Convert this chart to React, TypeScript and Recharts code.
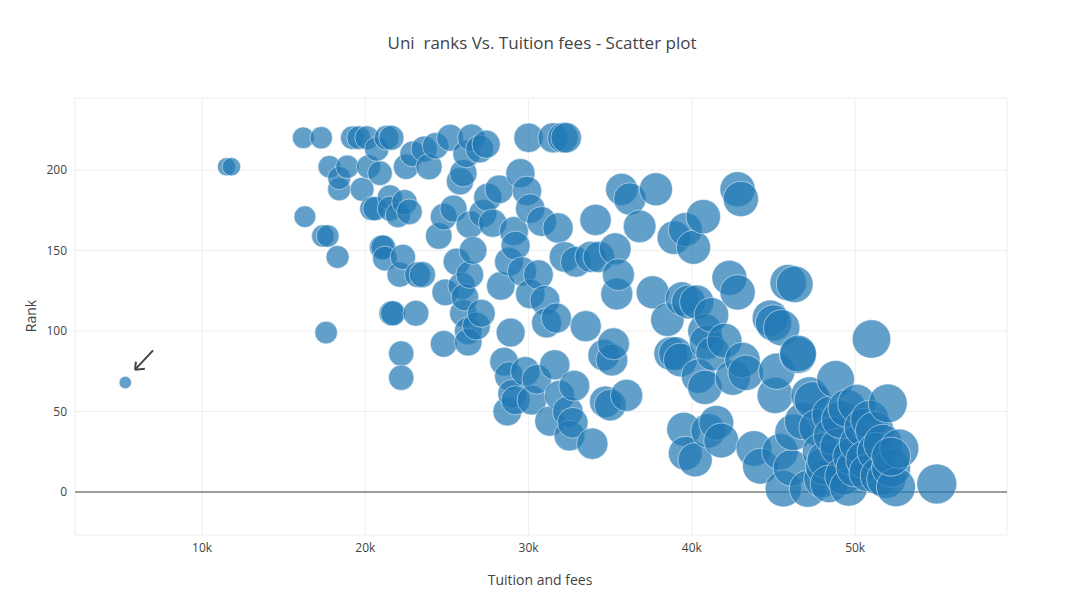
import React from 'react';
import { ScatterChart, Scatter, XAxis, YAxis, ZAxis, CartesianGrid, ReferenceLine } from 'recharts';

const tuitionK = [5.3,11.5,11.8,16.2,17.3,16.3,17.4,17.7,17.6,17.8,18.3,18.4,18.4,18.9,19.2,19.6,19.8,20.1,20.2,20.4,20.6,20.7,20.9,21.0,21.1,21.2,21.3,21.5,21.5,21.6,21.6,21.7,22.0,22.1,22.2,22.2,22.3,22.4,22.5,22.7,22.9,23.1,23.2,23.5,23.6,23.9,24.3,24.5,24.8,24.8,24.9,25.2,25.4,25.6,25.8,25.9,26.0,26.0,26.1,26.2,26.3,26.3,26.4,26.4,26.5,26.6,26.8,27.0,27.1,27.2,27.4,27.5,27.8,28.2,28.3,28.5,28.7,28.8,28.9,28.8,29.0,29.1,29.2,29.2,29.5,29.6,29.8,29.9,30.0,30.1,30.1,30.2,30.5,30.6,30.8,31.0,31.1,31.3,31.5,31.6,31.7,31.8,31.9,32.1,32.2,32.3,32.4,32.5,32.7,32.8,32.9,33.5,33.8,33.9,34.1,34.3,34.6,34.7,35.0,35.1,35.2,35.3,35.4,35.5,35.7,36.0,36.2,36.8,37.6,37.8,38.5,38.7,38.9,39.0,39.3,39.4,39.5,39.6,39.6,39.8,40.1,40.2,40.3,40.4,40.7,40.8,40.8,40.9,41.0,41.2,41.3,41.5,41.8,42.0,42.3,42.5,42.8,42.8,43.0,43.1,43.3,43.8,44.2,44.8,45.0,45.1,45.2,45.4,45.5,45.6,45.9,46.1,46.2,46.5,46.3,46.5,46.8,47.1,47.2,47.4,47.7,47.9,48.0,48.1,48.2,48.4,48.5,48.6,48.8,49.0,49.1,49.3,49.5,49.6,49.8,50.0,50.1,50.2,50.5,50.6,50.8,50.9,51.0,51.2,51.3,51.5,51.7,51.9,52.0,52.2,52.5,52.7,52.2,55.0];
const ranks = [68,202,202,220,220,171,159,159,99,202,146,188,195,202,220,220,188,220,202,176,176,213,198,152,152,145,220,183,176,111,220,111,172,135,86,71,146,180,202,174,210,111,135,135,213,202,215,159,171,92,124,220,176,143,193,128,111,198,121,210,100,93,166,135,220,150,103,213,111,173,216,183,167,188,128,81,50,143,99,72,61,162,153,57,198,137,75,187,220,176,123,57,70,135,168,119,105,44,220,79,108,164,60,220,146,220,50,35,43,66,143,103,146,30,169,146,85,56,54,82,92,151,123,135,188,60,182,165,124,188,107,86,158,86,82,120,39,24,163,118,152,20,118,72,171,65,100,93,38,110,86,43,32,94,133,71,124,188,182,82,74,27,16,108,105,60,75,25,102,2,130,15,37,85,129,86,44,2,60,57,40,25,8,16,20,5,48,35,70,28,45,10,52,3,22,15,55,30,40,20,12,45,95,38,25,10,30,8,55,15,3,27,22,5];
const xTicks = [10000, 20000, 30000, 40000, 50000];
const yTicks = [0, 50, 100, 150, 200];

const data = tuitionK.map((t, i) => ({ x: t * 1000, y: ranks[i], z: t * 1000 }));

const fmt = (v: number) => `${v / 1000}k`;
const tickStyle = { fontSize: 12, fill: '#444', fontFamily: '"Open Sans", sans-serif' };

export default function App() {
  return (
    <div style={{ position: 'absolute', left: 0, top: 0, width: 1084, height: 607, background: '#fff', fontFamily: '"Open Sans", sans-serif' }}>
      <div style={{ position: 'absolute', top: 31, width: 1084, textAlign: 'center', fontSize: 17, color: '#444' }}>
        Uni&nbsp; ranks Vs. Tuition fees - Scatter plot
      </div>
      <div style={{ position: 'absolute', top: 570, width: 1084, left: 0, paddingLeft: 0, textAlign: 'center', fontSize: 14, color: '#444' }}>
        <span style={{ position: 'absolute', left: 540, transform: 'translateX(-50%)' }}>Tuition and fees</span>
      </div>
      <div style={{ position: 'absolute', left: 30, top: 316, transform: 'translate(-50%,-50%) rotate(-90deg)', fontSize: 14, color: '#444' }}>Rank</div>
      <ScatterChart width={1084} height={607} margin={{ top: 98, right: 77, bottom: 42, left: 15 }}>
        <CartesianGrid stroke="#eee" />
        <XAxis type="number" dataKey="x" domain={[2220, 59300]} ticks={xTicks} tickFormatter={fmt}
          axisLine={false} tickLine={false} height={30} tick={tickStyle} allowDataOverflow />
        <YAxis type="number" dataKey="y" domain={[-26.7, 244.7]} ticks={yTicks} axisLine={false} tickLine={false}
          width={60} tick={tickStyle} allowDataOverflow />
        <ZAxis type="number" dataKey="z" domain={[0, 60000]} range={[0, 1370]} />
        <ReferenceLine y={0} stroke="#444" strokeWidth={1} />
        <Scatter data={data} fill="rgba(31,119,180,0.7)" stroke="#fff" strokeWidth={0.5} isAnimationActive={false} />
        <ReferenceLine segment={[{ x: 7000, y: 88 }, { x: 5900, y: 76 }]} stroke="#444" strokeWidth={2} />
        <ReferenceLine segment={[{ x: 5900, y: 76 }, { x: 6500, y: 76.5 }]} stroke="#444" strokeWidth={2} />
        <ReferenceLine segment={[{ x: 5900, y: 76 }, { x: 5950, y: 81 }]} stroke="#444" strokeWidth={2} />
      </ScatterChart>
    </div>
  );
}
